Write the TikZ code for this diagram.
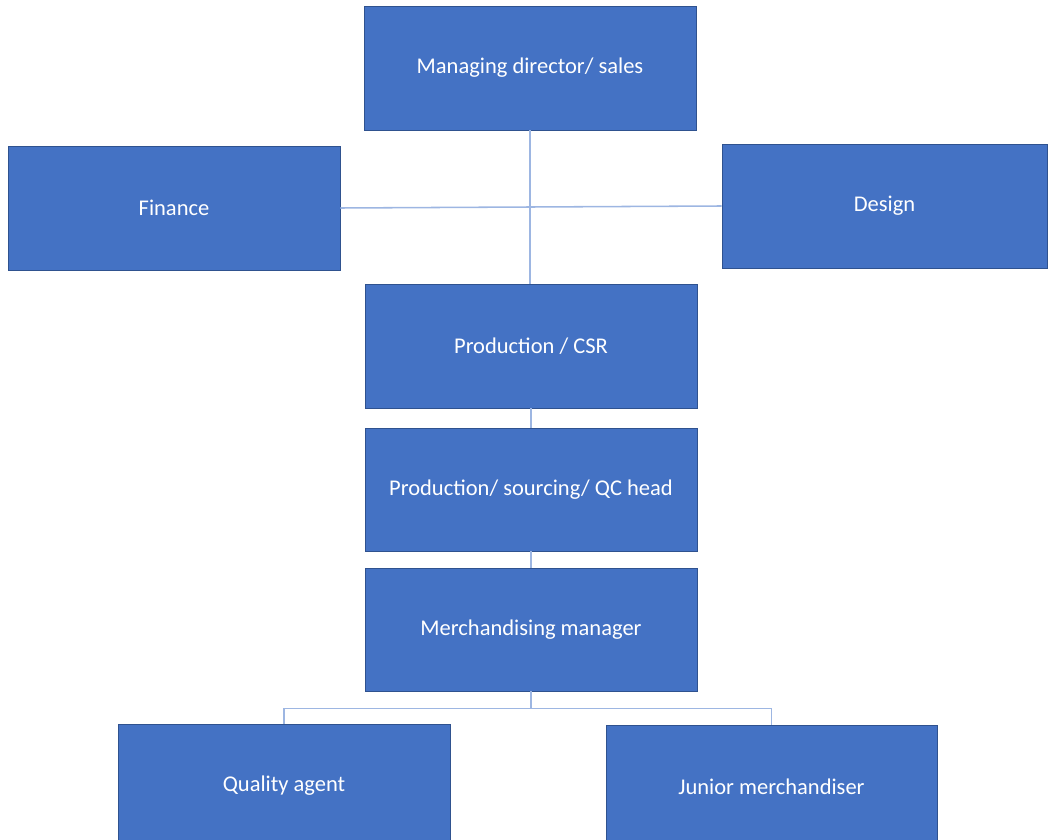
\documentclass[tikz,border=0pt]{standalone}
\usepackage{fontspec}
\setmainfont{Carlito}
\usetikzlibrary{calc}
\definecolor{boxblue}{HTML}{4472C4}
\definecolor{boxedge}{HTML}{2F528F}
\definecolor{linkblue}{HTML}{9DB6E2}
\begin{document}
\begin{tikzpicture}
	[x=0.025cm,y=-0.025cm,
	box/.style={rectangle,draw=boxedge,line width=0.6pt,fill=boxblue,text=white,minimum width=8.3cm,minimum height=3.1cm,inner sep=0pt,font=\fontsize{16}{19}\selectfont},
	link/.style={draw=linkblue,line width=1.1pt}]
    \useasboundingbox (0,0) rectangle (1048,840);
    \clip (0,0) rectangle (1048,840);
    \node[box] (md) at (530,68) {Managing director/ sales};
    \node[box] (fin) at (174,208) {Finance};
    \node[box,minimum width=8.125cm] (des) at (884.5,206) {Design};
    \node[box] (csr) at (531,346) {Production / CSR};
    \node[box,minimum height=3.075cm] (qc) at (531,489.5) {Production/ sourcing/ QC head};
    \node[box,minimum height=3.075cm] (mm) at (531,629.5) {Merchandising manager};
    \node[box] (qa) at (284,786) {Quality agent};
    \node[box,minimum width=8.275cm] (jm) at (771.5,787) {Junior merchandiser};
    \draw [link] (md.south) -- (md.south |- csr.north);
    \draw [link] (fin.east) -- (des.west);
    \draw [link] (csr) -- (qc);
    \draw [link] (qc) -- (mm);
    \coordinate (split) at ($(mm.south)+(0,17)$);
    \draw [link] (mm.south) -- (split) -| (qa.north);
    \draw [link] (split) -| (jm.north);
\end{tikzpicture}
\end{document}
